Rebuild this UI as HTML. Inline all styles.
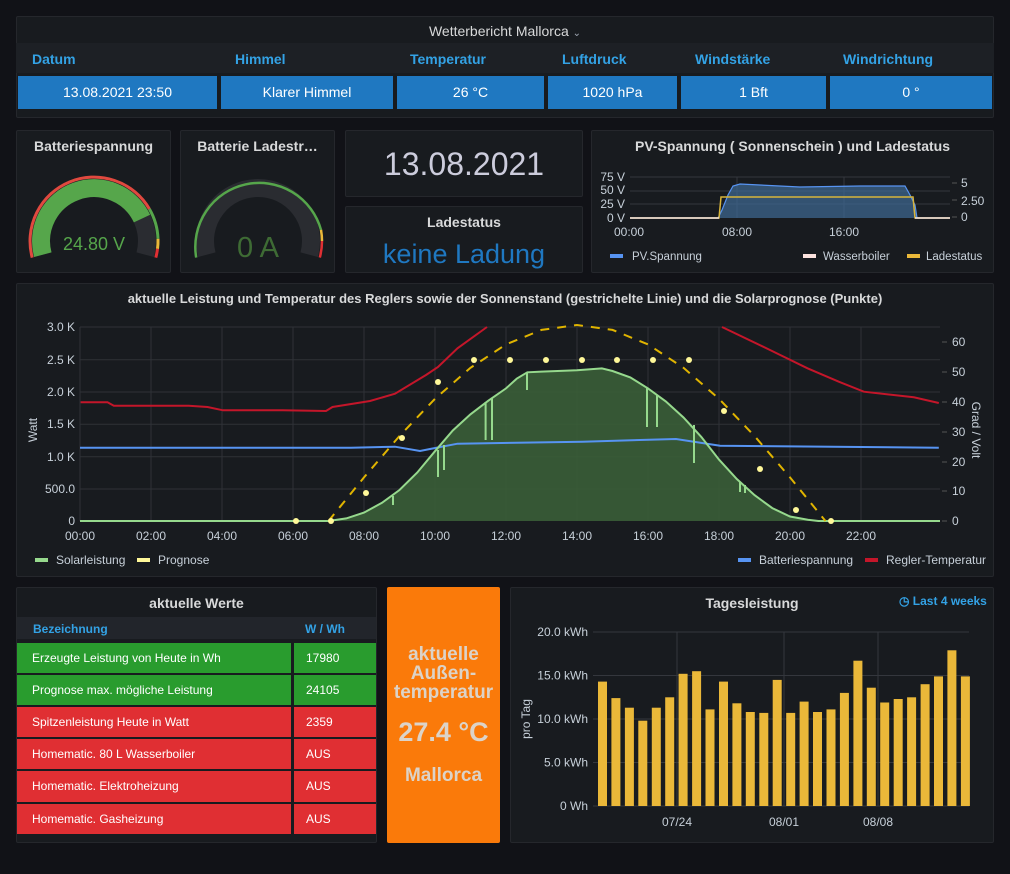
<!DOCTYPE html>
<html><head><meta charset="utf-8"><style>
*{margin:0;padding:0;box-sizing:border-box}
body{width:1010px;height:874px;background:#111217;font-family:"Liberation Sans",sans-serif;color:#d8d9da;position:relative;overflow:hidden}
.p{position:absolute;background:#181b1f;border:1px solid #25272c;border-radius:2px}
.t{position:absolute;left:0;right:0;text-align:center;font-size:14px;font-weight:bold;color:#d8d9da}
.a{position:absolute;font-size:12px;white-space:nowrap}
svg{position:absolute;left:0;top:0}
svg text{font-family:"Liberation Sans",sans-serif}
</style></head><body>

<div class="p" style="left:16px;top:16px;width:978px;height:102px"></div>
<div class="a" style="left:0;width:1010px;top:23px;text-align:center;font-size:14px;color:#d8d9da">Wetterbericht Mallorca <span style="font-size:10px;color:#9fa7b3">⌄</span></div>
<div class="a" style="left:16px;top:43px;width:978px;height:30px;background:#1d2025"></div>
<div class="a" style="left:32px;top:51px;font-size:14px;color:#33a2e5;font-weight:bold">Datum</div>
<div class="a" style="left:235px;top:51px;font-size:14px;color:#33a2e5;font-weight:bold">Himmel</div>
<div class="a" style="left:410px;top:51px;font-size:14px;color:#33a2e5;font-weight:bold">Temperatur</div>
<div class="a" style="left:562px;top:51px;font-size:14px;color:#33a2e5;font-weight:bold">Luftdruck</div>
<div class="a" style="left:695px;top:51px;font-size:14px;color:#33a2e5;font-weight:bold">Windstärke</div>
<div class="a" style="left:843px;top:51px;font-size:14px;color:#33a2e5;font-weight:bold">Windrichtung</div>
<div class="a" style="left:18px;top:76px;width:199px;height:33px;background:#1f78c1;color:#fff;font-size:14px;text-align:center;line-height:33px">13.08.2021 23:50</div>
<div class="a" style="left:221px;top:76px;width:172px;height:33px;background:#1f78c1;color:#fff;font-size:14px;text-align:center;line-height:33px">Klarer Himmel</div>
<div class="a" style="left:397px;top:76px;width:147px;height:33px;background:#1f78c1;color:#fff;font-size:14px;text-align:center;line-height:33px">26 °C</div>
<div class="a" style="left:548px;top:76px;width:129px;height:33px;background:#1f78c1;color:#fff;font-size:14px;text-align:center;line-height:33px">1020 hPa</div>
<div class="a" style="left:681px;top:76px;width:145px;height:33px;background:#1f78c1;color:#fff;font-size:14px;text-align:center;line-height:33px">1 Bft</div>
<div class="a" style="left:830px;top:76px;width:162px;height:33px;background:#1f78c1;color:#fff;font-size:14px;text-align:center;line-height:33px">0 °</div>

<div class="p" style="left:16px;top:130px;width:155px;height:143px"><div class="t" style="top:7px">Batteriespannung</div></div>
<div class="p" style="left:180px;top:130px;width:155px;height:143px"><div class="t" style="top:7px">Batterie Ladestr…</div></div>
<div class="p" style="left:345px;top:130px;width:238px;height:67px"><div class="t" style="top:15px;font-size:32px;font-weight:normal;color:#ccccdc">13.08.2021</div></div>
<div class="p" style="left:345px;top:206px;width:238px;height:67px"><div class="t" style="top:7px">Ladestatus</div><div class="t" style="top:32px;font-size:27px;font-weight:normal;color:#1f78c1">keine Ladung</div></div>
<div class="p" style="left:591px;top:130px;width:403px;height:143px"><div class="t" style="top:7px">PV-Spannung ( Sonnenschein ) und Ladestatus</div></div>

<div class="p" style="left:16px;top:283px;width:978px;height:294px"><div class="t" style="top:7px;font-size:13px">aktuelle Leistung und Temperatur des Reglers sowie der Sonnenstand (gestrichelte Linie) und die Solarprognose (Punkte)</div></div>

<div class="p" style="left:16px;top:587px;width:361px;height:256px"><div class="t" style="top:7px">aktuelle Werte</div></div>
<div class="a" style="left:17px;top:617px;width:359px;height:22px;background:#22252b"></div>
<div class="a" style="left:33px;top:622px;color:#33a2e5;font-weight:bold">Bezeichnung</div>
<div class="a" style="left:305px;top:622px;color:#33a2e5;font-weight:bold">W / Wh</div>

<div class="a" style="left:17px;top:643px;width:274px;height:30px;background:#299c2e;color:#fff;line-height:30px;padding-left:15px">Erzeugte Leistung von Heute in Wh</div>
<div class="a" style="left:294px;top:643px;width:82px;height:30px;background:#299c2e;color:#fff;line-height:30px;padding-left:12px">17980</div>
<div class="a" style="left:17px;top:675px;width:274px;height:30px;background:#299c2e;color:#fff;line-height:30px;padding-left:15px">Prognose max. mögliche Leistung</div>
<div class="a" style="left:294px;top:675px;width:82px;height:30px;background:#299c2e;color:#fff;line-height:30px;padding-left:12px">24105</div>
<div class="a" style="left:17px;top:707px;width:274px;height:30px;background:#e02f33;color:#fff;line-height:30px;padding-left:15px">Spitzenleistung Heute in Watt</div>
<div class="a" style="left:294px;top:707px;width:82px;height:30px;background:#e02f33;color:#fff;line-height:30px;padding-left:12px">2359</div>
<div class="a" style="left:17px;top:739px;width:274px;height:30px;background:#e02f33;color:#fff;line-height:30px;padding-left:15px">Homematic. 80 L Wasserboiler</div>
<div class="a" style="left:294px;top:739px;width:82px;height:30px;background:#e02f33;color:#fff;line-height:30px;padding-left:12px">AUS</div>
<div class="a" style="left:17px;top:771px;width:274px;height:31px;background:#e02f33;color:#fff;line-height:31px;padding-left:15px">Homematic. Elektroheizung</div>
<div class="a" style="left:294px;top:771px;width:82px;height:31px;background:#e02f33;color:#fff;line-height:31px;padding-left:12px">AUS</div>
<div class="a" style="left:17px;top:804px;width:274px;height:30px;background:#e02f33;color:#fff;line-height:30px;padding-left:15px">Homematic. Gasheizung</div>
<div class="a" style="left:294px;top:804px;width:82px;height:30px;background:#e02f33;color:#fff;line-height:30px;padding-left:12px">AUS</div>

<div class="a" style="left:387px;top:587px;width:113px;height:256px;background:#fa7a0a;border-radius:2px"></div>
<div class="a" style="left:387px;top:645px;width:113px;text-align:center;font-size:19px;font-weight:bold;color:#dcd3c8;line-height:19px;white-space:normal">aktuelle<br>Außen-<br>temperatur</div>
<div class="a" style="left:387px;top:717px;width:113px;text-align:center;font-size:27px;font-weight:bold;color:#dcd3c8">27.4 °C</div>
<div class="a" style="left:387px;top:765px;width:113px;text-align:center;font-size:19px;font-weight:bold;color:#dcd3c8">Mallorca</div>

<div class="p" style="left:510px;top:587px;width:484px;height:256px"><div class="t" style="top:7px">Tagesleistung</div></div>
<div class="a" style="left:899px;top:594px;color:#33a2e5;font-weight:bold">◷ Last 4 weeks</div>

<svg width="1010" height="874" viewBox="0 0 1010 874">
<path d="M42.8 254.7 A53 53 0 1 1 145.2 254.7" fill="none" stroke="#2a2c31" stroke-width="18"/>
<path d="M42.8 254.7 A53 53 0 0 1 142 218.6" fill="none" stroke="#56a64b" stroke-width="18"/>
<path d="M32.2 257.6 A64 64 0 0 1 149.4 209" fill="none" stroke="#e0493f" stroke-width="3"/>
<path d="M149.4 209 A64 64 0 0 1 158 238.8" fill="none" stroke="#56a64b" stroke-width="3"/>
<path d="M158 238.8 A64 64 0 0 1 157.5 248.8" fill="none" stroke="#eab839" stroke-width="3"/>
<path d="M157.5 248.8 A64 64 0 0 1 155.8 257.6" fill="none" stroke="#e02f33" stroke-width="3"/>
<text x="94" y="250" text-anchor="middle" font-size="18" fill="#56a64b">24.80 V</text>
<path d="M206.8 254.7 A53 53 0 1 1 309.2 254.7" fill="none" stroke="#2a2c31" stroke-width="18"/>
<path d="M196.2 257.6 A64 64 0 0 1 321 229.9" fill="none" stroke="#56a64b" stroke-width="2.5"/>
<path d="M321 229.9 A64 64 0 0 1 322 241" fill="none" stroke="#eab839" stroke-width="2.5"/>
<path d="M322 241 A64 64 0 0 1 319.8 257.6" fill="none" stroke="#e02f33" stroke-width="2.5"/>
<text x="258" y="257" text-anchor="middle" font-size="29" fill="#3e6b34">0 A</text>

<g stroke="#34373d" stroke-width="1">
<line x1="630" y1="177" x2="950" y2="177"/><line x1="630" y1="191" x2="950" y2="191"/><line x1="630" y1="204" x2="950" y2="204"/>
<line x1="737" y1="177" x2="737" y2="218"/><line x1="844" y1="177" x2="844" y2="218"/>
</g>
<polygon points="718,218 722,210 728,195 733,186 740,184 760,185 800,187 860,186 905,186 910,195 915,205 917,218" fill="#3f6a94" fill-opacity="0.7"/>
<polyline points="630,218 718,218 722,210 728,195 733,186 740,184 760,185 800,187 860,186 905,186 910,195 915,205 917,218 950,218" fill="none" stroke="#5794f2" stroke-width="1.2"/>
<polyline points="630,218 719,218 721,197 913,197 915,218 950,218" fill="none" stroke="#d8b43a" stroke-width="1.5"/>
<line x1="630" y1="218" x2="719" y2="218" stroke="#f4e3e0" stroke-width="1.5"/>
<line x1="915" y1="218" x2="950" y2="218" stroke="#f4e3e0" stroke-width="1.5"/>
<g font-size="12" fill="#c7d0d9" text-anchor="end">
<text x="625" y="181">75 V</text><text x="625" y="194">50 V</text><text x="625" y="208">25 V</text><text x="625" y="222">0 V</text>
</g>
<g font-size="12" fill="#c7d0d9">
<line x1="952" y1="183" x2="957" y2="183" stroke="#555"/><line x1="952" y1="200" x2="957" y2="200" stroke="#555"/><line x1="952" y1="217" x2="957" y2="217" stroke="#555"/>
<text x="961" y="187">5</text><text x="961" y="205">2.50</text><text x="961" y="221">0</text>
<text x="629" y="236" text-anchor="middle">00:00</text><text x="737" y="236" text-anchor="middle">08:00</text><text x="844" y="236" text-anchor="middle">16:00</text>
</g>
<g font-size="11.5" fill="#c7d0d9">
<rect x="610" y="254" width="13" height="4" fill="#5794f2"/><text x="632" y="260">PV.Spannung</text>
<rect x="803" y="254" width="13" height="4" fill="#fce2de"/><text x="823" y="260">Wasserboiler</text>
<rect x="907" y="254" width="13" height="4" fill="#eab839"/><text x="926" y="260">Ladestatus</text>
</g>

<g stroke="#2f3237" stroke-width="1">
<line x1="80" y1="327" x2="940" y2="327"/><line x1="80" y1="359.7" x2="940" y2="359.7"/><line x1="80" y1="392" x2="940" y2="392"/>
<line x1="80" y1="424.3" x2="940" y2="424.3"/><line x1="80" y1="456.7" x2="940" y2="456.7"/><line x1="80" y1="489" x2="940" y2="489"/>
<line x1="80" y1="327" x2="80" y2="521"/><line x1="151" y1="327" x2="151" y2="521"/><line x1="222" y1="327" x2="222" y2="521"/><line x1="293" y1="327" x2="293" y2="521"/>
<line x1="364" y1="327" x2="364" y2="521"/><line x1="435" y1="327" x2="435" y2="521"/><line x1="506" y1="327" x2="506" y2="521"/><line x1="577" y1="327" x2="577" y2="521"/>
<line x1="648" y1="327" x2="648" y2="521"/><line x1="719" y1="327" x2="719" y2="521"/><line x1="790" y1="327" x2="790" y2="521"/><line x1="861" y1="327" x2="861" y2="521"/>
</g>
<polygon points="328.5,521 346.3,518.4 364,512.6 381.8,502.9 399.5,490 417.3,472.5 435,451.2 452.8,430.5 470.5,414.3 488.3,400.7 506,388.4 516.7,378.7 527.3,372.3 541.5,371.6 577,370.3 601.9,368.4 612.5,371 630.3,377.4 648,388.4 665.8,401.4 683.5,417.5 701.3,436.9 719,459.6 736.8,479 754.5,495.1 772.3,508.1 790,516.5 807.8,519.7 818.4,521" fill="#3a5e37" fill-opacity="0.9"/>
<polyline points="80,447.7 351,447.7 395,446.7 420,451 430,449 457.5,443.7 582.5,441.7 676,439 720,445.7 938.8,447.7" fill="none" stroke="#5794f2" stroke-width="2"/>
<polyline points="80,521 328.5,521 346.3,518.4 364,512.6 381.8,502.9 399.5,490 417.3,472.5 435,451.2 452.8,430.5 470.5,414.3 488.3,400.7 506,388.4 516.7,378.7 527.3,372.3 541.5,371.6 577,370.3 601.9,368.4 612.5,371 630.3,377.4 648,388.4 665.8,401.4 683.5,417.5 701.3,436.9 719,459.6 736.8,479 754.5,495.1 772.3,508.1 790,516.5 807.8,519.7 818.4,521 940,521" fill="none" stroke="#96d98d" stroke-width="2"/>
<g stroke="#96d98d" stroke-width="2">
<line x1="393" y1="496" x2="393" y2="505"/><line x1="438" y1="450" x2="438" y2="477"/><line x1="444" y1="445" x2="444" y2="470"/>
<line x1="485.6" y1="402" x2="485.6" y2="440"/><line x1="492" y1="398" x2="492" y2="440"/><line x1="527" y1="372" x2="527" y2="390"/>
<line x1="647" y1="388" x2="647" y2="427"/><line x1="657" y1="395" x2="657" y2="427"/><line x1="694" y1="425" x2="694" y2="463"/>
<line x1="740" y1="482" x2="740" y2="492"/><line x1="745" y1="485" x2="745" y2="493"/>
</g>
<polyline points="80.6,402.3 107.5,402.3 113.8,405.7 188.8,405.7 207.5,407 223,410.3 282.5,410.3 326,411 332.5,407 370,401 395,393.7 426,375 438,367 457.5,348.3 487,327" fill="none" stroke="#c4162a" stroke-width="2"/>
<polyline points="722,327 770,350 807.5,368.3 838.8,381.7 863.8,391.7 913.8,397.3 938.8,403" fill="none" stroke="#c4162a" stroke-width="2"/>
<polyline points="328.5,521 364,477.4 399.5,436 435,398.8 470.5,367.8 506,344.4 541.5,329.9 577,325 612.5,329.9 648,344.4 683.5,367.8 719,398.8 754.5,436 790,477.4 825.5,521" fill="none" stroke="#e0b400" stroke-width="2" stroke-dasharray="9 8"/>
<g fill="#fff899">
<circle cx="296" cy="521" r="3"/><circle cx="331" cy="521" r="3"/><circle cx="366" cy="493" r="3"/><circle cx="402" cy="438" r="3"/>
<circle cx="438" cy="382" r="3"/><circle cx="474" cy="360" r="3"/><circle cx="510" cy="360" r="3"/><circle cx="546" cy="360" r="3"/>
<circle cx="582" cy="360" r="3"/><circle cx="617" cy="360" r="3"/><circle cx="653" cy="360" r="3"/><circle cx="689" cy="360" r="3"/>
<circle cx="724" cy="411" r="3"/><circle cx="760" cy="469" r="3"/><circle cx="796" cy="510" r="3"/><circle cx="831" cy="521" r="3"/>
</g>
<g font-size="12" fill="#c7d0d9" text-anchor="end">
<text x="75" y="331">3.0 K</text><text x="75" y="364">2.5 K</text><text x="75" y="396">2.0 K</text><text x="75" y="428">1.5 K</text>
<text x="75" y="461">1.0 K</text><text x="75" y="493">500.0</text><text x="75" y="525">0</text>
</g>
<g stroke="#555"><line x1="942" y1="342" x2="947" y2="342"/><line x1="942" y1="372" x2="947" y2="372"/><line x1="942" y1="402" x2="947" y2="402"/><line x1="942" y1="432" x2="947" y2="432"/><line x1="942" y1="462" x2="947" y2="462"/><line x1="942" y1="491" x2="947" y2="491"/><line x1="942" y1="521" x2="947" y2="521"/></g>
<g font-size="12" fill="#c7d0d9">
<text x="952" y="346">60</text><text x="952" y="376">50</text><text x="952" y="406">40</text><text x="952" y="436">30</text>
<text x="952" y="466">20</text><text x="952" y="495">10</text><text x="952" y="525">0</text>
</g>
<g font-size="12" fill="#c7d0d9" text-anchor="middle">
<text x="80" y="540">00:00</text><text x="151" y="540">02:00</text><text x="222" y="540">04:00</text><text x="293" y="540">06:00</text>
<text x="364" y="540">08:00</text><text x="435" y="540">10:00</text><text x="506" y="540">12:00</text><text x="577" y="540">14:00</text>
<text x="648" y="540">16:00</text><text x="719" y="540">18:00</text><text x="790" y="540">20:00</text><text x="861" y="540">22:00</text>
</g>
<text x="37" y="430" font-size="12" fill="#c7d0d9" text-anchor="middle" transform="rotate(-90 37 430)">Watt</text>
<text x="972" y="430" font-size="12" fill="#c7d0d9" text-anchor="middle" transform="rotate(90 972 430)">Grad / Volt</text>
<g font-size="12" fill="#c7d0d9">
<rect x="35" y="558" width="13" height="4" fill="#96d98d"/><text x="56" y="564">Solarleistung</text>
<rect x="137" y="558" width="13" height="4" fill="#fff899"/><text x="158" y="564">Prognose</text>
<rect x="738" y="558" width="13" height="4" fill="#5794f2"/><text x="759" y="564">Batteriespannung</text>
<rect x="865" y="558" width="13" height="4" fill="#c4162a"/><text x="886" y="564">Regler-Temperatur</text>
</g>

<g stroke="#34373d"><line x1="593" y1="632" x2="969" y2="632"/><line x1="593" y1="675.5" x2="969" y2="675.5"/><line x1="593" y1="719" x2="969" y2="719"/><line x1="593" y1="762.5" x2="969" y2="762.5"/><line x1="593" y1="806" x2="969" y2="806"/>
<line x1="677" y1="632" x2="677" y2="806"/><line x1="784" y1="632" x2="784" y2="806"/><line x1="878" y1="632" x2="878" y2="806"/></g>
<g fill="#eab839">
<rect x="598" y="681.6" width="9" height="124.4"/><rect x="611.4" y="698.1" width="9" height="107.9"/><rect x="624.9" y="707.7" width="9" height="98.3"/><rect x="638.3" y="720.7" width="9" height="85.3"/>
<rect x="651.8" y="707.7" width="9" height="98.3"/><rect x="665.2" y="697.3" width="9" height="108.7"/><rect x="678.6" y="673.8" width="9" height="132.2"/><rect x="692.1" y="671.2" width="9" height="134.8"/>
<rect x="705.5" y="709.4" width="9" height="96.6"/><rect x="719" y="681.6" width="9" height="124.4"/><rect x="732.4" y="703.3" width="9" height="102.7"/><rect x="745.8" y="712" width="9" height="94"/>
<rect x="759.3" y="712.9" width="9" height="93.1"/><rect x="772.7" y="679.9" width="9" height="126.1"/><rect x="786.2" y="712.9" width="9" height="93.1"/><rect x="799.6" y="701.6" width="9" height="104.4"/>
<rect x="813" y="712" width="9" height="94"/><rect x="826.5" y="709.4" width="9" height="96.6"/><rect x="839.9" y="692.9" width="9" height="113.1"/><rect x="853.4" y="660.7" width="9" height="145.3"/>
<rect x="866.8" y="687.7" width="9" height="118.3"/><rect x="880.2" y="702.5" width="9" height="103.5"/><rect x="893.7" y="699" width="9" height="107"/><rect x="907.1" y="697.3" width="9" height="108.7"/>
<rect x="920.6" y="684.2" width="9" height="121.8"/><rect x="934" y="676.4" width="9" height="129.6"/><rect x="947.4" y="650.3" width="9" height="155.7"/><rect x="960.9" y="676.4" width="9" height="129.6"/>
</g>
<g font-size="12" fill="#c7d0d9" text-anchor="end">
<text x="588" y="636">20.0 kWh</text><text x="588" y="679.5">15.0 kWh</text><text x="588" y="723">10.0 kWh</text><text x="588" y="766.5">5.0 kWh</text><text x="588" y="810">0 Wh</text>
</g>
<g font-size="12" fill="#c7d0d9" text-anchor="middle">
<text x="677" y="826">07/24</text><text x="784" y="826">08/01</text><text x="878" y="826">08/08</text>
</g>
<text x="530" y="719" font-size="12" fill="#c7d0d9" text-anchor="middle" transform="rotate(-90 530 719)">pro Tag</text>
</svg>
</body></html>
